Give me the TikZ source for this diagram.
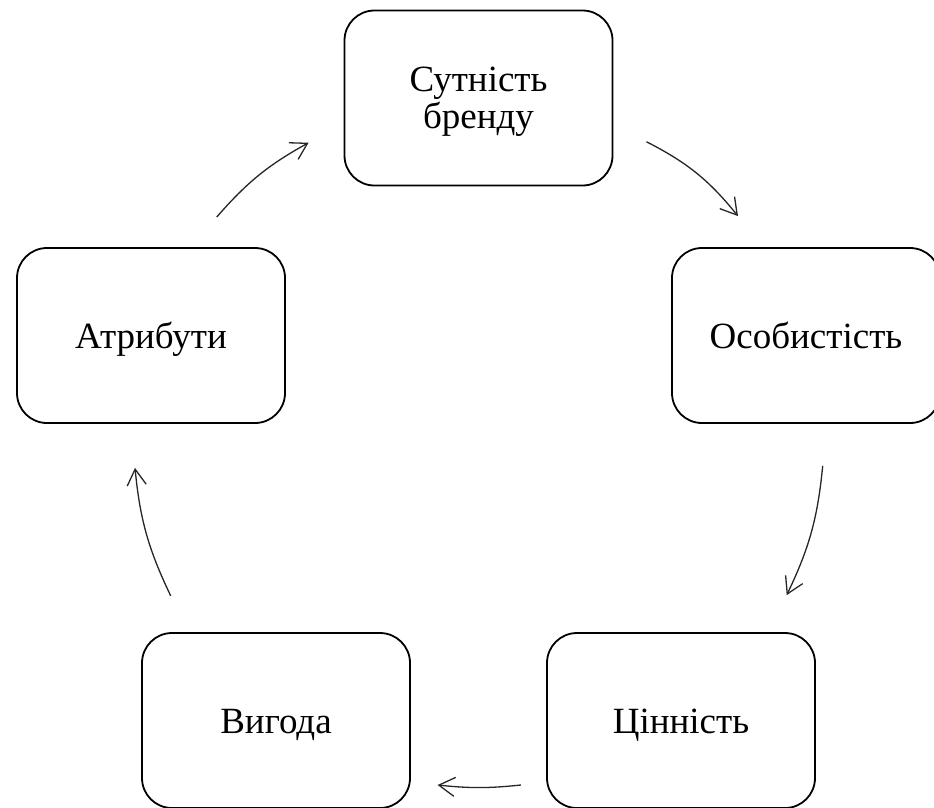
\documentclass[tikz,border=0pt]{standalone}
\usepackage{fontspec}
\setmainfont{Liberation Serif}
\usetikzlibrary{arrows.meta}

\begin{document}
\begin{tikzpicture}[x=10pt,y=10pt]
	\tikzstyle{every node}+=[inner sep=0pt, font=\fontsize{37}{37}\selectfont]
	\tikzstyle{box}=[draw=black, line width=1.8pt, rounded corners=30pt, minimum width=268pt, minimum height=175pt, align=center, text height=26pt, text depth=1pt]
	\tikzstyle{arr}=[black!85, line width=1.3pt, -{Straight Barb[length=16pt,width=19pt]}]
	\useasboundingbox (0,0) rectangle (93.4,-80.7);
	\draw (47.85,-9.8) node [box, text height=63pt, text depth=3pt] (sut) {Сутність\\бренду};
	\draw (80.6,-33.55) node [box] (osob) {Особистість};
	\draw (68.1,-72.05) node [box] (tsin) {Цінність};
	\draw (27.6,-72.05) node [box] (vyg) {Вигода};
	\draw (15.1,-33.55) node [box] (atr) {Атрибути};
	\draw [arr] ([xshift=65.7pt,yshift=30pt]atr.north) to [bend left=10] ([xshift=-35pt,yshift=-44.7pt]sut.west);
	\draw [arr] ([xshift=33pt,yshift=-43.7pt]sut.east) to [bend left=12] ([xshift=-68pt,yshift=31pt]osob.north);
	\draw [arr] ([xshift=16.7pt,yshift=-42pt]osob.south) to [bend left=10] ([xshift=105.7pt,yshift=37pt]tsin.north);
	\draw [arr] ([xshift=-25.3pt,yshift=-64.5pt]tsin.west) to [bend left=6] ([xshift=26.7pt,yshift=-64.5pt]vyg.east);
	\draw [arr] ([xshift=-105.3pt,yshift=36.3pt]vyg.north) to [bend left=10] ([xshift=-16pt,yshift=-44pt]atr.south);
\end{tikzpicture}
\end{document}
